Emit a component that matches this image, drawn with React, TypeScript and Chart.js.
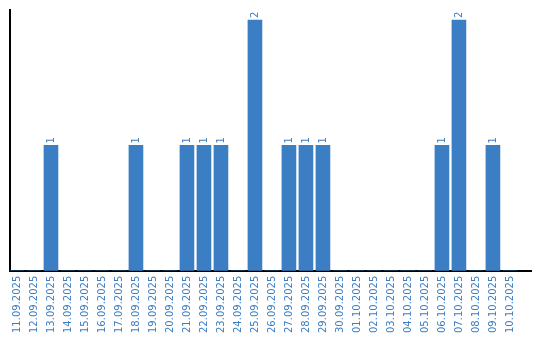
import React, { useEffect, useRef } from "react";
import { Chart, registerables } from "chart.js";

Chart.register(...registerables);

const categories = [
  "11.09.2025", "12.09.2025", "13.09.2025", "14.09.2025", "15.09.2025", "16.09.2025",
  "17.09.2025", "18.09.2025", "19.09.2025", "20.09.2025", "21.09.2025", "22.09.2025",
  "23.09.2025", "24.09.2025", "25.09.2025", "26.09.2025", "27.09.2025", "28.09.2025",
  "29.09.2025", "30.09.2025", "01.10.2025", "02.10.2025", "03.10.2025", "04.10.2025",
  "05.10.2025", "06.10.2025", "07.10.2025", "08.10.2025", "09.10.2025", "10.10.2025",
];

const counts = [
  0, 0, 1, 0, 0, 0,
  0, 1, 0, 0, 1, 1,
  1, 0, 2, 0, 1, 1,
  1, 0, 0, 0, 0, 0,
  0, 1, 2, 0, 1, 0,
];

const BLUE = "#3b7ec3";
const FONT = "'DejaVu Sans', sans-serif";

const barLabels = {
  id: "barLabels",
  afterDatasetsDraw(chart: any) {
    const ctx = chart.ctx;
    const meta = chart.getDatasetMeta(0);
    ctx.save();
    ctx.fillStyle = BLUE;
    ctx.font = "10px " + FONT;
    ctx.textAlign = "left";
    ctx.textBaseline = "middle";
    meta.data.forEach((el: any, i: number) => {
      const v = counts[i];
      if (!v) return;
      ctx.save();
      ctx.translate(el.x, el.y - 2);
      ctx.rotate(-Math.PI / 2);
      ctx.fillText(String(v), 0, 0);
      ctx.restore();
    });
    ctx.restore();
  },
};

export default function App() {
  const ref = useRef<HTMLCanvasElement>(null);
  useEffect(() => {
    document.body.style.margin = "0";
    const chart = new Chart(ref.current!, {
      type: "bar",
      data: {
        datasets: [
          {
            data: counts.map((v, i) => ({ x: i, y: v })),
            backgroundColor: BLUE,
            borderWidth: 0,
            barThickness: 14,
          },
        ],
      },
      options: {
        animation: false,
        responsive: false,
        layout: { padding: { left: 10, right: 9, top: 10, bottom: 2 } },
        plugins: { legend: { display: false }, tooltip: { enabled: false } },
        scales: {
          x: {
            type: "linear",
            offset: false,
            min: -0.41,
            max: 30.24,
            afterFit: (scale: any) => {
              scale.paddingLeft = 0;
              scale.paddingRight = 0;
            },
            grid: { display: false, drawTicks: false },
            border: { color: "#000", width: 2 },
            ticks: {
              color: BLUE,
              font: { family: FONT, size: 10 },
              minRotation: 90,
              maxRotation: 90,
              autoSkip: false,
              includeBounds: false,
              stepSize: 1,
              padding: 5,
              callback: (v: any) =>
                Number.isInteger(v) && categories[v] ? categories[v] : "",
            },
          },
          y: {
            min: 0,
            max: 2.08,
            grid: { display: false, drawTicks: false },
            border: { color: "#000", width: 2 },
            ticks: { display: false },
          },
        },
      },
      plugins: [barLabels],
    });
    return () => chart.destroy();
  }, []);
  return (
    <div style={{ width: 540, height: 340 }}>
      <canvas ref={ref} width={540} height={340} />
    </div>
  );
}
